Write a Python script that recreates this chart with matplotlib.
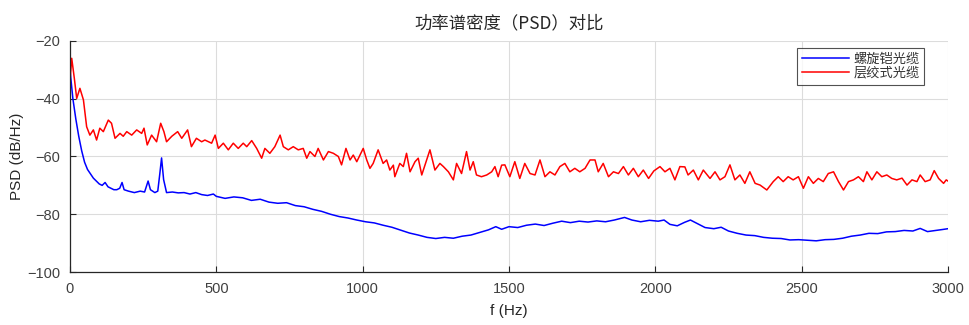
import numpy as np
import matplotlib
matplotlib.use("Agg")
import matplotlib.pyplot as plt

plt.rcParams['font.family'] = ['Liberation Sans', 'Noto Sans CJK SC', 'DejaVu Sans']

# values (f in Hz, PSD in dB/Hz)
f_blue = [0, 10, 20, 30, 40, 50, 60, 70, 80, 90, 100, 110, 120, 130, 140, 150, 160, 170,
          178, 185, 200, 220, 240, 255, 267, 275, 290, 300, 307, 313, 320, 330, 350, 370,
          390, 410, 430, 450, 470, 490,
          500, 530, 560, 590, 620, 650, 680, 710, 740, 770, 800, 830, 860, 890, 920, 950,
          980, 1010, 1040, 1070, 1100, 1130, 1160, 1190, 1220, 1250, 1280, 1310, 1340,
          1370, 1400, 1430, 1455, 1475, 1500, 1530, 1560, 1590, 1620, 1650, 1680, 1710,
          1740, 1770, 1800, 1830, 1860, 1895, 1920, 1950, 1980, 2010, 2030, 2050, 2075,
          2100, 2120, 2145, 2170, 2200, 2225, 2250, 2280, 2310, 2340, 2370, 2400, 2430,
          2460, 2490, 2520, 2550, 2580, 2610, 2640, 2670, 2700, 2730, 2760, 2790, 2820,
          2850, 2880, 2905, 2930, 2960, 2980, 3000]
psd_blue = [-30, -40, -47, -53, -58, -62, -64.5, -66, -67.5, -68.5, -69.5, -70, -69, -70.5,
            -71, -71.5, -71.5, -71, -69, -71.5, -72, -72.5, -72, -72.3, -68.5, -71.5, -72.5,
            -72, -66, -60.5, -68, -72.5, -72.3, -72.6, -72.5, -73, -72.5, -73.2, -73.5, -73,
            -73.8, -74.5, -74, -74.3, -75.2, -74.8, -75.8, -76.2, -76, -77, -77.4, -78.3,
            -79, -80, -80.8, -81.3, -82, -82.6, -83, -83.8, -84.5, -85.5, -86.5, -87.2, -88,
            -88.4, -88, -88.3, -87.6, -87.2, -86.3, -85.4, -84.3, -85.2, -84.3, -84.6, -83.8,
            -83.4, -83.9, -83.1, -82.4, -82.9, -82.4, -82.7, -82.3, -82.6, -82.0, -81.1, -82.0,
            -82.6, -82.1, -82.4, -82.0, -83.5, -84.0, -82.8, -82.0, -83.3, -84.6, -85.0, -84.5,
            -85.8, -86.6, -87.2, -87.4, -88.0, -88.3, -88.4, -88.9, -88.8, -89.0, -89.2, -88.8,
            -88.7, -88.3, -87.6, -87.2, -86.6, -86.7, -86.1, -86.0, -85.6, -85.8, -84.9, -86.0,
            -85.6, -85.3, -85.0]

f_red = [0, 6, 15, 23, 34, 46, 57, 68, 80, 91, 102, 114, 131, 142, 154, 171, 182, 194, 211,
         228, 245, 253, 264, 279, 296, 310, 321, 330, 348, 368, 382, 402, 415, 432, 450, 461,
         484, 496, 507, 524, 541, 558, 575, 592, 604, 621, 638, 655, 666, 683, 700, 718, 729,
         746, 763, 780, 797, 809, 820, 837, 848, 866, 883, 900, 917, 928, 943, 957, 968, 980,
         1002, 1014, 1025, 1036, 1053, 1070, 1082, 1093, 1105, 1110, 1127, 1139, 1150, 1162,
         1179, 1190, 1202, 1213, 1230, 1247, 1264, 1276, 1293, 1310, 1321, 1338, 1355, 1367,
         1378, 1389, 1406, 1424, 1441, 1452, 1463, 1475, 1486, 1503, 1520, 1537, 1554, 1572,
         1589, 1606, 1623, 1640, 1657, 1674, 1691, 1708, 1725, 1742, 1760, 1777, 1794, 1805,
         1822, 1840, 1857, 1874, 1891, 1908, 1925, 1942, 1959, 1977, 1995, 2016, 2033, 2050,
         2067, 2084, 2101, 2112, 2130, 2147, 2164, 2187, 2204, 2221, 2238, 2255, 2272, 2289,
         2306, 2323, 2341, 2358, 2381, 2403, 2420, 2437, 2454, 2471, 2489, 2506, 2523, 2540,
         2557, 2574, 2591, 2609, 2626, 2643, 2660, 2677, 2694, 2711, 2723, 2740, 2757, 2774,
         2791, 2808, 2825, 2843, 2860, 2877, 2894, 2905, 2922, 2939, 2953, 2968, 2985, 2994,
         3000]
psd_red = [-34, -26, -33, -39.9, -36.4, -40.4, -49.7, -52.6, -50.8, -54.3, -50.2, -51.4, -47.4,
           -48.5, -53.7, -52, -53, -51.4, -52.6, -50.8, -52, -50.2, -56, -52.6, -54.9, -48.5,
           -51.4, -54.9, -53, -51.4, -53.7, -50.8, -56.6, -53.7, -54.9, -54.3, -55.4, -52.6,
           -57.2, -55.4, -57.7, -55.4, -57.2, -55.4, -56.6, -54.5, -57.2, -60.6, -57.2, -58.9,
           -56.6, -52.6, -56.6, -57.7, -56.6, -57.7, -57.2, -60.6, -58.3, -60.0, -57.2, -61.2,
           -58.3, -58.9, -60, -62.9, -57.2, -61.2, -59.5, -61.8, -57.2, -61.2, -64.1, -62.4,
           -57.7, -62.4, -61.2, -64.7, -63, -67, -62.4, -63.5, -58.9, -65.3, -61.8, -60.6,
           -66.4, -63, -57.7, -64.7, -62.4, -63.5, -65.3, -68.1, -62.4, -65.9, -58.3, -64.7,
           -61.8, -66.4, -67, -66.4, -65.3, -63.5, -67, -63, -62.9, -67, -61.8, -67.6, -62.4,
           -65.9, -66.4, -61.2, -67, -65.3, -66.4, -63.5, -62.4, -65.3, -64.1, -65.3, -64.1,
           -61.2, -61.2, -65.3, -62.4, -67, -65.3, -65.9, -63.5, -66.4, -64.1, -67, -64.7,
           -67.6, -65, -63.5, -65.3, -64.1, -68.1, -63.5, -63.6, -66.4, -64.7, -68.1, -64.7,
           -67.6, -65.3, -68.1, -67, -62.9, -68.1, -66.4, -69.3, -65.3, -69.3, -69.9, -71.6,
           -68.7, -67, -68.7, -67, -68.1, -67, -71, -67, -69.3, -67.6, -68.7, -65.9, -65.3,
           -68.7, -71.6, -68.7, -68.1, -67, -68.7, -65.3, -68.1, -65.3, -67, -66.4, -67.6,
           -68.1, -67.5, -69.9, -68.1, -68.7, -66.4, -68.7, -68.1, -64.9, -67.6, -69.3, -68.1,
           -68.5]

labels = ['螺旋铠光缆', '层绞式光缆']
xticks = [0, 500, 1000, 1500, 2000, 2500, 3000]
yticks = [-100, -80, -60, -40, -20]

fig = plt.figure(figsize=(9.69, 3.25), dpi=100)
ax = fig.add_axes([0.0722, 0.163, 0.9061, 0.711])

ax.plot(f_blue, psd_blue, color='#0000ff', lw=1.1, label=labels[0])
ax.plot(f_red, psd_red, color='#ff0000', lw=1.1, label=labels[1])

ax.set_xlim(0, 3000)
ax.set_ylim(-100, -20)
ax.set_xticks(xticks)
ax.set_yticks(yticks)
ax.grid(True, color='#dcdcdc', lw=0.8)
ax.set_axisbelow(True)
for s in ['top', 'right']:
    ax.spines[s].set_visible(False)
for s in ['left', 'bottom']:
    ax.spines[s].set_color('#262626')
    ax.spines[s].set_linewidth(0.9)
ax.tick_params(direction='in', length=4, labelsize=10.5, colors='#262626')
ax.tick_params(axis='y', pad=7, labelcolor='#404040')
ax.tick_params(axis='x', pad=7, labelcolor='#404040')

ax.set_xlabel('f (Hz)', fontsize=11, color='#262626', labelpad=6)
ax.set_ylabel('PSD (dB/Hz)', fontsize=11, color='#262626', labelpad=2)
ax.set_title('功率谱密度（PSD）对比', fontsize=12.5, color='#262626', pad=9,
             family=['Noto Sans CJK SC', 'DejaVu Sans'])

leg = ax.legend(loc='upper right', bbox_to_anchor=(0.9727, 0.9697),
                prop={'family': ['Noto Sans CJK SC'], 'size': 9.5},
                frameon=True, fancybox=False, handlelength=3.6, handletextpad=0.3,
                borderpad=0.35, labelspacing=0.1, borderaxespad=0)
leg.get_frame().set_edgecolor('#262626')
leg.get_frame().set_linewidth(0.8)
for t in leg.get_texts():
    t.set_color('#333333')

fig.savefig('out.png', dpi=100)
